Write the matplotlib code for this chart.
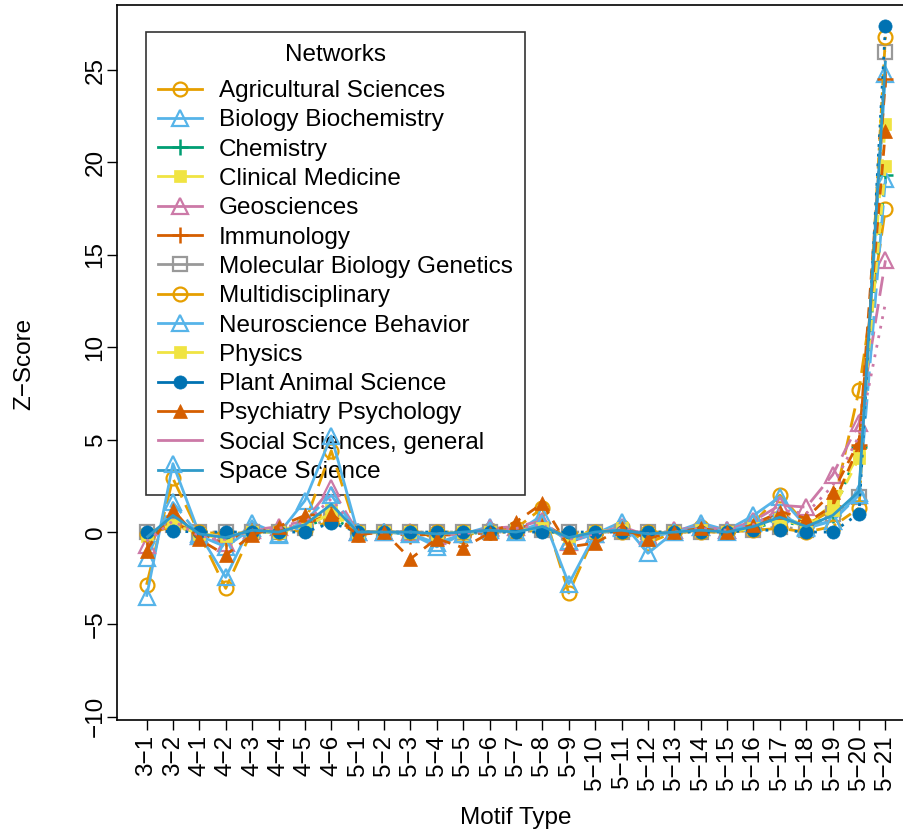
import matplotlib
matplotlib.use("Agg")
import matplotlib.pyplot as plt
from matplotlib.lines import Line2D

plt.rcParams['font.family'] = ['Liberation Sans', 'DejaVu Sans']

motifs = ["3−1", "3−2", "4−1", "4−2", "4−3", "4−4", "4−5", "4−6",
          "5−1", "5−2", "5−3", "5−4", "5−5", "5−6", "5−7", "5−8", "5−9",
          "5−10", "5−11", "5−12", "5−13", "5−14", "5−15", "5−16", "5−17",
          "5−18", "5−19", "5−20", "5−21"]

agricultural = [-2.85, 2.9, -0.1, -3.05, 0.1, 0.0, 0.5, 4.4, -0.1, 0.0, 0.0, -0.3, -0.2, 0.1, 0.2, 1.3, -3.3, -0.1, 0.3, -0.6, 0.0, 0.3, 0.0, 0.5, 2.0, 0.4, 1.2, 7.7, 17.5]
biology = [-3.5, 3.7, -0.1, -2.45, 0.5, -0.1, 1.7, 5.2, 0.0, 0.0, -0.1, -0.8, -0.1, 0.3, 0.0, 0.9, -2.8, -0.1, 0.55, -1.15, 0.0, 0.5, 0.1, 0.9, 1.9, 0.3, 0.6, 2.1, 24.8]
chemistry = [-0.2, 0.5, -0.1, -0.3, 0.1, 0.1, 0.3, 0.8, 0.0, 0.0, -0.1, -0.1, -0.1, 0.0, 0.1, 0.2, -0.3, 0.0, 0.1, -0.1, 0.0, 0.1, 0.0, 0.2, 0.6, 0.3, 0.9, 4.6, 19.3]
clinical = [-0.2, 0.6, -0.1, -0.4, 0.1, 0.1, 0.4, 1.2, 0.0, 0.0, -0.1, -0.2, -0.1, 0.1, 0.1, 0.3, -0.4, 0.0, 0.2, -0.2, 0.0, 0.1, 0.0, 0.3, 0.8, 0.4, 1.5, 4.3, 22.1]
geosciences = [-0.7, 0.8, -0.2, -0.6, 0.1, 0.3, 0.6, 2.4, 0.0, 0.0, 0.0, -0.2, -0.1, 0.2, 0.3, 0.6, -0.55, -0.1, 0.3, -0.2, 0.1, 0.3, 0.1, 0.6, 1.45, 1.35, 3.1, 5.9, 14.7]
immunology = [-0.3, 0.5, -0.1, -0.5, 0.1, 0.1, 0.4, 1.0, 0.0, 0.0, -0.2, -0.1, -0.2, 0.0, 0.2, 0.5, -0.4, -0.1, 0.1, -0.1, 0.0, 0.1, 0.0, 0.3, 0.9, 0.5, 1.4, 4.7, 24.5]
molecular = [0.0, 0.4, 0.0, 0.0, 0.0, 0.0, 0.2, 0.75, 0.0, 0.0, 0.0, 0.0, 0.0, 0.0, 0.0, 0.1, 0.0, 0.0, 0.0, 0.0, 0.0, 0.0, 0.0, 0.1, 0.3, 0.1, 1.0, 1.9, 26.0]
multidisciplinary = [-0.1, 0.3, 0.0, -0.1, 0.0, 0.0, 0.1, 0.6, 0.0, 0.0, 0.0, 0.0, 0.0, 0.0, 0.0, 0.1, -0.1, 0.0, 0.0, 0.0, 0.0, 0.0, 0.0, 0.1, 0.2, 0.0, 0.3, 1.3, 26.8]
neuroscience = [-1.4, 1.6, -0.2, -0.8, 0.2, -0.15, 0.6, 2.0, 0.0, 0.0, -0.1, -0.6, -0.1, 0.1, 0.0, 0.5, -0.5, -0.1, 0.2, -0.3, 0.0, 0.3, 0.0, 0.5, 1.0, 0.2, 0.6, 2.0, 19.1]
physics = [-0.1, 0.4, -0.1, -0.2, 0.0, 0.0, 0.3, 1.0, 0.0, 0.0, 0.0, -0.1, 0.0, 0.0, 0.1, 0.2, -0.2, 0.0, 0.1, -0.1, 0.0, 0.1, 0.0, 0.2, 0.7, 0.3, 1.2, 4.0, 19.8]
plant = [0.0, 0.05, 0.0, 0.0, 0.0, 0.0, 0.0, 0.5, 0.0, 0.0, 0.0, 0.0, 0.0, 0.0, 0.0, 0.0, 0.0, 0.0, 0.0, 0.0, 0.0, 0.0, 0.0, 0.1, 0.1, 0.0, 0.0, 1.0, 27.4]
psychiatry = [-1.0, 1.2, -0.4, -1.25, -0.15, 0.3, 0.9, 1.0, -0.15, 0.0, -1.45, -0.35, -0.85, -0.05, 0.55, 1.55, -0.8, -0.6, 0.2, -0.35, 0.0, 0.2, 0.0, 0.4, 1.1, 0.75, 2.15, 4.9, 21.7]
social = [-0.5, 0.6, -0.2, -0.4, 0.1, 0.2, 0.5, 1.8, 0.0, 0.0, 0.0, -0.1, -0.1, 0.1, 0.2, 0.4, -0.4, -0.1, 0.2, -0.1, 0.0, 0.2, 0.1, 0.4, 1.2, 1.0, 2.5, 5.2, 12.4]
space = [-0.3, 0.9, -0.1, -0.3, 0.1, 0.0, 0.4, 1.5, 0.0, 0.0, 0.0, -0.1, 0.0, 0.1, 0.0, 0.3, -0.3, 0.0, 0.1, -0.1, 0.0, 0.1, 0.0, 0.3, 0.8, 0.3, 0.9, 2.2, 25.5]

network_names = ["Agricultural Sciences", "Biology Biochemistry", "Chemistry",
                 "Clinical Medicine", "Geosciences", "Immunology",
                 "Molecular Biology Genetics", "Multidisciplinary",
                 "Neuroscience Behavior", "Physics", "Plant Animal Science",
                 "Psychiatry Psychology", "Social Sciences, general", "Space Science"]
series = [agricultural, biology, chemistry, clinical, geosciences, immunology,
          molecular, multidisciplinary, neuroscience, physics, plant,
          psychiatry, social, space]

colors = ["#E69F00", "#56B4E9", "#009E73", "#F0E442", "#CC79A7", "#D55E00",
          "#999999", "#E69F00", "#56B4E9", "#F0E442", "#0072B2", "#D55E00",
          "#CC79A7", "#2F9AC9"]
# R pch equivalents
markers = ["o", "^", "+", "s", "^", "+", "s", "o", "^", "s", "o", "^", None, None]
filled = [False, False, True, True, False, True, False, False, False, True, True, True, True, True]

SOLID = (0, ())
DASHED = (0, (4, 3))
DOTTED = (0, (1, 2.5))
DOTDASH = (0, (1, 2.5, 4, 2.5))
LONGDASH = (0, (7, 3))
linestyles = [LONGDASH, SOLID, DOTTED, DOTDASH, LONGDASH, DASHED, DOTTED,
              DOTDASH, LONGDASH, DASHED, DOTTED, DASHED, DOTTED, SOLID]
LW = 2.0


def marker_kw(c, m, f):
    if m is None:
        return {}
    if m == "+":
        return dict(marker=m, markersize=12, markeredgewidth=1.8, markeredgecolor=c)
    if f:
        return dict(marker=m, markersize=10 if m == "^" else (9.5 if m == "o" else 8.5),
                    markerfacecolor=c, markeredgecolor=c, markeredgewidth=0.5)
    return dict(marker=m, markersize=11.5 if m == "^" else 10, markerfacecolor="none",
                markeredgecolor=c, markeredgewidth=1.6)


fig = plt.figure(figsize=(9.04, 8.33), dpi=100)
W, H = 904, 833
ax = fig.add_axes([117 / W, (833 - 720) / H, (915 - 117) / W, (720 - 5) / H])

x = list(range(len(motifs)))
for i, (vals, c, m, f, ls) in enumerate(zip(series, colors, markers, filled, linestyles)):
    kw = dict(color=c, lw=LW, linestyle=ls, zorder=2 + i * 0.01)
    kw.update(marker_kw(c, m, f))
    ax.plot(x, vals, **kw)

ax.set_xlim(-1.12, 29.12)
ax.set_ylim(-10.17, 28.52)

ax.set_xticks(x)
ax.set_xticklabels(motifs, rotation=90, fontsize=17.5, va="top", ha="center")
ax.set_yticks([-10, -5, 0, 5, 10, 15, 20, 25])
ax.set_yticklabels(["−10", "−5", "0", "5", "10", "15", "20", "25"], rotation=90,
                   fontsize=17.5, va="center")
ax.tick_params(axis="both", length=7, width=1.0, color="black", direction="out")
ax.tick_params(axis="x", pad=4)
ax.tick_params(axis="y", pad=0.5)
for s in ["left", "top", "bottom"]:
    ax.spines[s].set_linewidth(1.2)
    ax.spines[s].set_color("black")
ax.spines["right"].set_visible(False)

fig.text(516 / W, 1 - 818 / H, "Motif Type", fontsize=17.5, ha="center", va="center")
fig.text(24 / W, 1 - 364 / H, "Z−Score", fontsize=17.5, ha="center", va="center", rotation=90)

handles = []
for c, m, f in zip(colors, markers, filled):
    handles.append(Line2D([], [], color=c, lw=LW, **marker_kw(c, m, f)))

leg = ax.legend(handles, network_names, title="Networks", loc="upper left",
                bbox_to_anchor=(146 / W, 1 - 32 / H), bbox_transform=fig.transFigure,
                borderaxespad=0, fontsize=17.5, title_fontsize=17.5,
                frameon=True, fancybox=False, edgecolor="black", facecolor="none",
                handlelength=1.8, handletextpad=0.7,
                labelspacing=0.30, borderpad=0.5)
leg.get_frame().set_linewidth(1.2)
leg._legend_box.sep = 10
leg.set_zorder(1)

fig.savefig("out.png", dpi=100)
